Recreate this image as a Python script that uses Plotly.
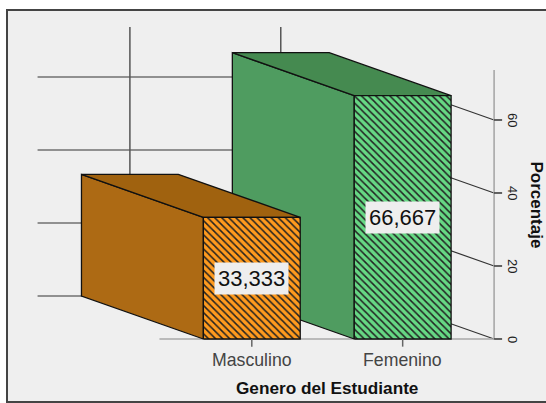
import plotly.graph_objects as go

# Data
categories = ["Masculino", "Femenino"]
percentages = [33.333, 66.667]
value_labels = ["33,333", "66,667"]
value_ticks = [0, 20, 40, 60]
value_top = 73.7
axis_title_x = "Genero del Estudiante"
axis_title_y = "Porcentaje"

# Oblique projection / geometry, in axis units
DEPTH_X, DEPTH_Y = -0.808, 11.78
HALF_WIDTH = 0.321
CAT_MIN, CAT_MAX = -0.612, 1.606

front_colors = ["#FF9A1E", "#66D884"]
side_colors = ["#AD6A14", "#4F9C60"]
top_colors = ["#A0620F", "#458A50"]
BG = "#EFEFEF"
FONT = "Liberation Sans"


def proj(x, z, depth):
    return x + DEPTH_X * depth, z + DEPTH_Y * depth


fig = go.Figure()


def line(xs, ys, color="#333333", width=1.2):
    fig.add_trace(go.Scatter(x=xs, y=ys, mode="lines", line=dict(color=color, width=width),
                             hoverinfo="skip", showlegend=False))


def poly(points, fill, pattern=None):
    xs = [p[0] for p in points] + [points[0][0]]
    ys = [p[1] for p in points] + [points[0][1]]
    kw = dict(fillpattern=pattern) if pattern else {}
    fig.add_trace(go.Scatter(x=xs, y=ys, mode="lines", fill="toself", fillcolor=fill,
                             line=dict(color="#111111", width=1.3), hoverinfo="skip",
                             showlegend=False, **kw))


# Back wall and side wall grid
for v in value_ticks:
    a = proj(CAT_MIN, v, 1)
    b = proj(CAT_MAX, v, 1)
    c = proj(CAT_MAX, v, 0)
    line([a[0], b[0], c[0]], [a[1], b[1], c[1]])
for i in range(len(categories)):
    a = proj(i, 0, 1)
    b = proj(i, value_top, 1)
    line([a[0], b[0]], [a[1], b[1]], color="#555555", width=1.5)

# Front axis lines
line([CAT_MIN, CAT_MAX], [0, 0], color="#A8A8A8", width=1.6)
line([CAT_MAX, CAT_MAX], [0, value_top], color="#A8A8A8", width=1.6)

# Bars, far one first
for i in [1, 0]:
    v = percentages[i]
    l, r = i - HALF_WIDTH, i + HALF_WIDTH
    poly([proj(l, 0, 0), proj(l, 0, 1), proj(l, v, 1), proj(l, v, 0)], side_colors[i])
    poly([proj(l, v, 0), proj(l, v, 1), proj(r, v, 1), proj(r, v, 0)], top_colors[i])
    poly([proj(l, 0, 0), proj(r, 0, 0), proj(r, v, 0), proj(l, v, 0)], front_colors[i],
         pattern=dict(shape="\\", size=5, solidity=0.3, fgcolor="#222222",
                      bgcolor=front_colors[i], fillmode="replace"))

# Ticks
for i in range(len(categories)):
    line([i, i], [0, -2.1], color="#666666", width=1.5)
for v in value_ticks:
    line([CAT_MAX, CAT_MAX + 0.053], [v, v], color="#333333", width=1.5)

annotations = []
for i, c in enumerate(categories):
    annotations.append(dict(x=i, y=-5.75, text=c, showarrow=False,
                            font=dict(family=FONT, size=17.7, color="#444444")))
    annotations.append(dict(x=i, y=percentages[i] / 2, text=value_labels[i], showarrow=False,
                            bgcolor="#EEEEEE", borderpad=3,
                            font=dict(family=FONT, size=22, color="#111111")))
for v in value_ticks:
    annotations.append(dict(x=1.725, y=v, text=str(v), showarrow=False, textangle=90,
                            font=dict(family=FONT, size=13, color="#222222")))
annotations.append(dict(x=0.5, y=-13.45, text=f"<b>{axis_title_x}</b>", showarrow=False,
                        font=dict(family=FONT, size=17.2, color="#111111")))
annotations.append(dict(x=1.885, y=36.8, text=f"<b>{axis_title_y}</b>", showarrow=False, textangle=90,
                        borderpad=0, font=dict(family=FONT, size=17, color="#111111")))

fig.update_layout(
    width=546, height=403,
    margin=dict(l=7.5, r=0, t=11, b=2),
    paper_bgcolor="white", plot_bgcolor=BG,
    xaxis=dict(range=[-1.616, 1.950], visible=True, showgrid=False, zeroline=False,
               showticklabels=False, ticks="", showline=True, mirror=True,
               linecolor="#444444", linewidth=1.5, fixedrange=True),
    yaxis=dict(range=[-16.99, 89.86], visible=True, showgrid=False, zeroline=False,
               showticklabels=False, ticks="", showline=True, mirror=False,
               linecolor="#444444", linewidth=1.5, fixedrange=True),
    annotations=annotations,
    showlegend=False,
)
fig.write_html("out.html", config={"displayModeBar": False},
               post_script="document.body.style.margin='0';document.body.style.overflow='hidden';")
